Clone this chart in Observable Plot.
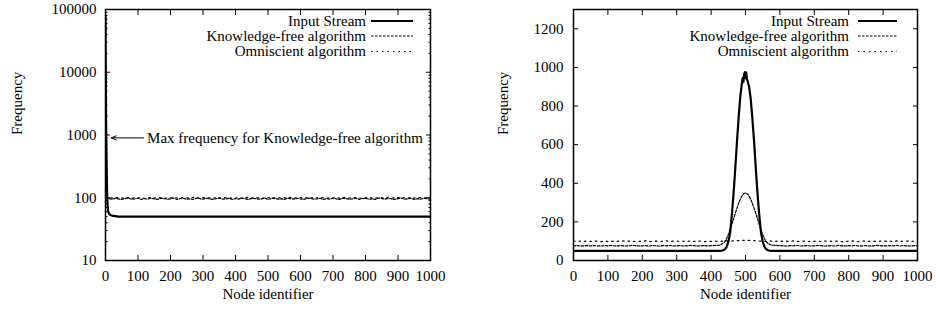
<!DOCTYPE html>
<html><head><meta charset="utf-8">
<script src="https://cdn.jsdelivr.net/npm/d3@7"></script>
<script src="https://cdn.jsdelivr.net/npm/@observablehq/plot@0.6"></script>
<style>
body{margin:0;background:#fff;}
#wrap{display:flex;width:936px;height:312px;}
</style></head><body><div id="wrap"></div>
<script>
const seriesNames = ["Input Stream", "Knowledge-free algorithm", "Omniscient algorithm"];
const xTickValues = [0, 100, 200, 300, 400, 500, 600, 700, 800, 900, 1000];
const leftYTickValues = [10, 100, 1000, 10000, 100000];
const rightYTickValues = [0, 200, 400, 600, 800, 1000, 1200];
const annotationText = "Max frequency for Knowledge-free algorithm";
const annotationFreq = 900;

// Left panel (log scale)
const leftInputNodes = [0, 1, 2, 3, 4, 5, 6, 7, 8, 10, 12, 15, 20, 30, 40, 1000];
const leftInputFreq = [80000, 6000, 1500, 500, 220, 120, 85, 70, 62, 57, 55, 53, 52, 51, 50, 50];
const leftKfFreq = [
  100, 97, 95, 98, 96, 94, 97, 99, 95, 96,
  98, 94, 97, 95, 99, 96, 94, 98, 97, 95,
  96, 99, 94, 97, 98, 95, 96, 94, 99, 97,
  95, 98, 96, 94, 97, 99, 95, 96, 98, 94,
  97, 95, 99, 96, 94, 98, 97, 95, 96, 99,
  94, 97, 98, 95, 96, 94, 99, 97, 95, 98,
  96, 94, 97, 99, 95, 96, 98, 94, 97, 95,
  99, 96, 94, 98, 97, 95, 96, 99, 94, 97,
  98, 95, 96, 94, 99, 97, 95, 98, 96, 94,
  97, 99, 95, 96, 98, 94, 97, 95, 99, 96,
  95];
const leftOmniFreq = [
  101, 99, 100, 98, 102, 99, 100, 101, 98, 100,
  99, 101, 98, 100, 102, 99, 101, 100, 98, 99,
  100, 102, 99, 98, 101, 100, 99, 102, 98, 100,
  101, 99, 100, 98, 102, 99, 100, 101, 98, 100,
  99, 101, 98, 100, 102, 99, 101, 100, 98, 99,
  100, 102, 99, 98, 101, 100, 99, 102, 98, 100,
  101, 99, 100, 98, 102, 99, 100, 101, 98, 100,
  99, 101, 98, 100, 102, 99, 101, 100, 98, 99,
  100, 102, 99, 98, 101, 100, 99, 102, 98, 100,
  101, 99, 100, 98, 102, 99, 100, 101, 98, 100,
  99];

// Right panel (linear scale)
const rightInputNodes = [0, 420, 425, 430, 435, 440, 445, 450, 455, 460, 465, 470, 475, 480, 485, 490, 492, 494, 496, 498, 500, 502, 504, 506, 508, 510, 515, 520, 525, 530, 535, 540, 545, 550, 555, 560, 565, 570, 575, 580, 1000];
const rightInputFreq = [50, 50, 50, 51, 53, 58, 70, 95, 140, 230, 340, 470, 610, 740, 850, 925, 945, 925, 965, 975, 945, 975, 940, 930, 915, 905, 840, 735, 615, 475, 345, 235, 145, 98, 72, 59, 53, 51, 50, 50, 50];
const rightKfNodes = [...d3.range(0, 430, 10), ...d3.range(425, 580, 5), ...d3.range(580, 1001, 10)];
const rightKfFreq = [
  76, 77, 75, 76, 78, 75, 77, 76, 75, 77,
  76, 78, 75, 76, 77, 75, 76, 78, 77, 75,
  76, 77, 75, 78, 76, 75, 77, 76, 78, 75,
  76, 77, 75, 76, 78, 77, 75, 76, 77, 76,
  77, 78, 79,
  80, 84, 90, 98, 113, 135, 160, 186, 214, 243, 270, 296, 318, 335, 346, 350,
  346, 335, 318, 296, 270, 243, 214, 186, 160, 135, 113, 98, 90, 84, 80,
  79, 78, 77, 76, 75, 77, 76, 78, 75, 76,
  77, 75, 76, 78, 77, 75, 76, 77, 75, 78,
  76, 75, 77, 76, 78, 75, 76, 77, 75, 76,
  78, 77, 75, 76, 77, 76, 78, 75, 77, 76,
  75, 77, 76];
const rightOmniFreq = [
  101, 99, 100, 98, 102, 99, 100, 101, 98, 100,
  99, 101, 98, 100, 102, 99, 101, 100, 98, 99,
  100, 102, 99, 98, 101, 100, 99, 102, 98, 100,
  101, 99, 100, 98, 102, 99, 100, 101, 98, 100,
  99, 101, 98, 100, 102, 100, 101, 102, 103, 104,
  105, 104, 103, 102, 101, 100, 99, 102, 98, 100,
  101, 99, 100, 98, 102, 99, 100, 101, 98, 100,
  99, 101, 98, 100, 102, 99, 101, 100, 98, 99,
  100, 102, 99, 98, 101, 100, 99, 102, 98, 100,
  101, 99, 100, 98, 102, 99, 100, 101, 98, 100,
  99];
const stepNodes = d3.range(0, 1001, 10);

const FONT = "Liberation Serif";
const FS = 15;
const rows = (nodes, freq) => nodes.map((n, i) => ({node: n, freq: freq[i]}));
const styles = [
  {stroke: "black", strokeWidth: 2.2},
  {stroke: "black", strokeWidth: 1.2, strokeDasharray: "2.5,1.5"},
  {stroke: "black", strokeWidth: 1.2, strokeDasharray: "1.5,4"}
];
const blank = () => "";

function axes(yTicks, yFmt, yMinor, yPad) {
  const m = [
    Plot.axisX(xTickValues, {anchor: "bottom", tickSize: 0, tickPadding: 10, tickFormat: "d", label: null, fontSize: FS}),
    Plot.axisX(xTickValues, {anchor: "bottom", tickSize: -5, tickFormat: blank, label: null}),
    Plot.axisX(xTickValues, {anchor: "top", tickSize: -5, tickFormat: blank, label: null}),
    Plot.axisY(yTicks, {anchor: "left", tickSize: 0, tickPadding: yPad, tickFormat: yFmt, label: null, fontSize: FS}),
    Plot.axisY(yTicks, {anchor: "left", tickSize: -5, tickFormat: blank, label: null}),
    Plot.axisY(yTicks, {anchor: "right", tickSize: -5, tickFormat: blank, label: null})
  ];
  if (yMinor) {
    m.push(Plot.axisY(yMinor, {anchor: "left", tickSize: -2.5, tickFormat: blank, label: null}));
    m.push(Plot.axisY(yMinor, {anchor: "right", tickSize: -2.5, tickFormat: blank, label: null}));
  }
  return m;
}

function addLegend(svg, textEnd, x1, x2, ys) {
  const g = d3.select(svg).append("g");
  seriesNames.forEach((name, i) => {
    g.append("text").attr("x", textEnd).attr("y", ys[i]).attr("dy", "0.32em")
      .attr("text-anchor", "end").attr("font-family", FONT).attr("font-size", FS)
      .attr("fill", "black").text(name);
    const ln = g.append("line").attr("x1", x1).attr("x2", x2).attr("y1", ys[i]).attr("y2", ys[i])
      .attr("stroke", "black").attr("stroke-width", styles[i].strokeWidth);
    if (styles[i].strokeDasharray) ln.attr("stroke-dasharray", styles[i].strokeDasharray);
  });
}

const leftMinor = [];
for (const d of [10, 100, 1000, 10000]) for (let k = 2; k <= 9; k++) leftMinor.push(d * k);

const left = Plot.plot({
  width: 468, height: 312,
  marginTop: 9, marginBottom: 52, marginLeft: 105, marginRight: 38,
  style: {fontFamily: FONT, fontSize: FS + "px", background: "white", color: "black"},
  x: {domain: [0, 1000]},
  y: {type: "log", domain: [10, 100000]},
  marks: [
    ...axes(leftYTickValues, d3.format("d"), leftMinor, 9),
    Plot.line(rows(stepNodes, leftOmniFreq), {x: "node", y: "freq", ...styles[2], clip: true}),
    Plot.line(rows(stepNodes, leftKfFreq), {x: "node", y: "freq", ...styles[1], clip: true}),
    Plot.line(rows(leftInputNodes, leftInputFreq), {x: "node", y: "freq", ...styles[0], clip: true}),
    Plot.arrow([{x1: 117, y1: annotationFreq, x2: 18, y2: annotationFreq}], {x1: "x1", y1: "y1", x2: "x2", y2: "y2", stroke: "black", strokeWidth: 1, headLength: 8, headAngle: 45}),
    Plot.text([{x: 128, y: annotationFreq, t: annotationText}], {x: "x", y: "y", text: "t", textAnchor: "start", fontSize: FS, fill: "black"}),
    Plot.text(["Frequency"], {text: d => d, frameAnchor: "left", rotate: -90, dx: -88, fontSize: FS, fill: "black"}),
    Plot.text(["Node identifier"], {text: d => d, frameAnchor: "bottom", dy: 38, fontSize: FS, fill: "black"}),
    Plot.frame({stroke: "black", strokeWidth: 1.5})
  ]
});
addLegend(left, 366, 371, 413, [21, 36, 51.5]);

const right = Plot.plot({
  width: 468, height: 312,
  marginTop: 9, marginBottom: 52, marginLeft: 105, marginRight: 19,
  style: {fontFamily: FONT, fontSize: FS + "px", background: "white", color: "black"},
  x: {domain: [0, 1000]},
  y: {domain: [0, 1300]},
  marks: [
    ...axes(rightYTickValues, d3.format("d"), null, 10),
    Plot.line(rows(stepNodes, rightOmniFreq), {x: "node", y: "freq", ...styles[2], clip: true}),
    Plot.line(rows(rightKfNodes, rightKfFreq), {x: "node", y: "freq", ...styles[1], clip: true}),
    Plot.line(rows(rightInputNodes, rightInputFreq), {x: "node", y: "freq", ...styles[0], clip: true}),
    Plot.text(["Frequency"], {text: d => d, frameAnchor: "left", rotate: -90, dx: -70, fontSize: FS, fill: "black"}),
    Plot.text(["Node identifier"], {text: d => d, frameAnchor: "bottom", dy: 38, fontSize: FS, fill: "black"}),
    Plot.frame({stroke: "black", strokeWidth: 1.5})
  ]
});
addLegend(right, 381, 390, 429, [21, 36, 51.5]);

document.getElementById("wrap").append(left, right);
</script></body></html>
